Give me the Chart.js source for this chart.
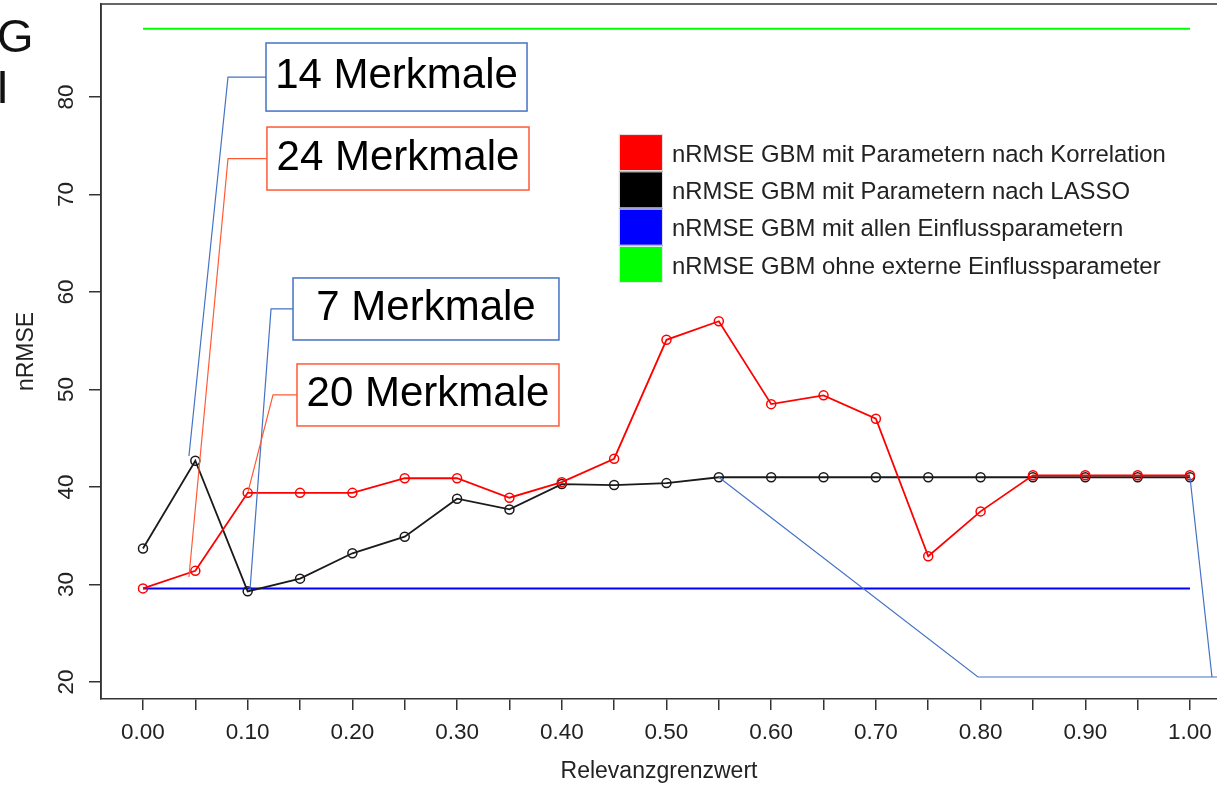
<!DOCTYPE html>
<html>
<head>
<meta charset="utf-8">
<script src="https://cdn.jsdelivr.net/npm/chart.js@4.4.1/dist/chart.umd.min.js"></script>
<style>
  html, body { margin: 0; padding: 0; background: #fff; overflow: hidden; }
</style>
</head>
<body>
<canvas id="chart" width="1217" height="785"></canvas>
<script>
// Relevanzgrenzwert (x) und nRMSE-Werte
const thresholds = [0.00, 0.05, 0.10, 0.15, 0.20, 0.25, 0.30, 0.35, 0.40, 0.45, 0.50,
  0.55, 0.60, 0.65, 0.70, 0.75, 0.80, 0.85, 0.90, 0.95, 1.00];
const nrmseCorrelation = [29.6, 31.4, 39.4, 39.4, 39.4, 40.9, 40.9, 38.9, 40.5, 42.9, 55.1,
  57.0, 48.5, 49.4, 47.0, 32.9, 37.5, 41.2, 41.2, 41.2, 41.2];
const nrmseLasso = [33.7, 42.7, 29.3, 30.6, 33.2, 34.9, 38.8, 37.7, 40.3, 40.2, 40.4,
  41.0, 41.0, 41.0, 41.0, 41.0, 41.0, 41.0, 41.0, 41.0, 41.0];
const constantRange = [0.00, 1.00];
const nrmseAllParams = [29.6, 29.6];
const nrmseNoExternal = [87.0, 87.0];

const seriesLabels = [
  'nRMSE GBM mit Parametern nach Korrelation',
  'nRMSE GBM mit Parametern nach LASSO',
  'nRMSE GBM mit allen Einflussparametern',
  'nRMSE GBM ohne externe Einflussparameter',
];
const seriesColors = ['#ff0000', '#000000', '#0000ff', '#00ff00'];

const yTicks = [20, 30, 40, 50, 60, 70, 80];
const xTicks = thresholds;
const xTickLabels = ['0.00', '', '0.10', '', '0.20', '', '0.30', '', '0.40', '', '0.50',
  '', '0.60', '', '0.70', '', '0.80', '', '0.90', '', '1.00'];

// Beschriftungskästen (in Datenkoordinaten)
const callouts = [
  { text: '14 Merkmale', color: '#4472c4', box: [0.1175, 0.3668, 85.54, 78.56], elbowX: 0.0812, target: [0.0439, 43.18] },
  { text: '24 Merkmale', color: '#ff5a36', box: [0.1184, 0.3687, 76.92, 70.46], elbowX: 0.0812, target: [0.0439, 30.77] },
  { text: '7 Merkmale', color: '#4472c4', box: [0.1433, 0.3973, 61.44, 55.08], elbowX: 0.1223, target: [0.1022, 29.44] },
  { text: '20 Merkmale', color: '#ff5a36', box: [0.1471, 0.3973, 52.62, 46.26], elbowX: 0.1242, target: [0.1003, 39.49] },
];
const rightLeaders = [
  [[0.55, 41.0], [0.7975, 20.51], [1.03, 20.51]],
  [[1.00, 41.0], [1.021, 20.51]],
];

const FONT = "'Liberation Sans', Arial, Helvetica, sans-serif";

const pairs = (xs, ys) => xs.map((x, i) => ({ x: x, y: ys[i] }));

const lineDataset = (label, data, color, withPoints) => ({
  label: label,
  data: data,
  borderColor: color,
  backgroundColor: 'transparent',
  borderWidth: withPoints ? 1.8 : 2,
  pointRadius: withPoints ? 4.5 : 0,
  pointBorderWidth: 1.5,
  pointBorderColor: color,
  pointBackgroundColor: 'transparent',
  tension: 0,
  fill: false,
});

const boxPlugin = {
  id: 'rbox',
  afterDraw(chart) {
    const { ctx, chartArea: a } = chart;
    ctx.save();
    ctx.strokeStyle = '#333';
    ctx.lineWidth = 1.5;
    ctx.beginPath();
    ctx.moveTo(a.left, a.bottom);
    ctx.lineTo(a.left, a.top);
    ctx.lineTo(a.right + 2, a.top);
    ctx.stroke();
    // abgeschnittener Text am linken Rand
    ctx.fillStyle = '#111';
    ctx.font = '47px ' + FONT;
    ctx.textBaseline = 'alphabetic';
    ctx.textAlign = 'left';
    ctx.fillText('G', -3, 52);
    ctx.fillText('I', -4, 103);
    ctx.restore();
  },
};

const legendPlugin = {
  id: 'rlegend',
  afterDraw(chart) {
    const { ctx, scales: { x, y } } = chart;
    const left = x.getPixelForValue(0.4546);
    const top = y.getPixelForValue(76.2);
    ctx.save();
    ctx.font = '23.9px ' + FONT;
    ctx.textBaseline = 'middle';
    ctx.textAlign = 'left';
    seriesLabels.forEach((label, i) => {
      const ry = top + i * 37.3;
      ctx.fillStyle = seriesColors[i];
      ctx.fillRect(left, ry, 44, 37);
      ctx.strokeStyle = '#e8e8e8';
      ctx.lineWidth = 1;
      ctx.strokeRect(left + 0.5, ry + 0.5, 43, 36);
      ctx.fillStyle = '#222';
      ctx.fillText(label, left + 53, ry + 21);
    });
    ctx.restore();
  },
};

const calloutPlugin = {
  id: 'callouts',
  afterDatasetsDraw(chart) {
    const { ctx, scales: { x, y } } = chart;
    ctx.save();
    callouts.forEach(c => {
      const bl = x.getPixelForValue(c.box[0]);
      const br = x.getPixelForValue(c.box[1]);
      const bt = y.getPixelForValue(c.box[2]);
      const bb = y.getPixelForValue(c.box[3]);
      const my = (bt + bb) / 2;
      ctx.strokeStyle = c.color;
      ctx.lineWidth = 1.2;
      ctx.beginPath();
      ctx.moveTo(x.getPixelForValue(c.target[0]), y.getPixelForValue(c.target[1]));
      ctx.lineTo(x.getPixelForValue(c.elbowX), my);
      ctx.lineTo(bl, my);
      ctx.stroke();
      ctx.fillStyle = '#fff';
      ctx.fillRect(bl, bt, br - bl, bb - bt);
      ctx.lineWidth = 1.5;
      ctx.strokeRect(bl, bt, br - bl, bb - bt);
      ctx.fillStyle = '#000';
      ctx.font = '42px ' + FONT;
      ctx.textAlign = 'center';
      ctx.textBaseline = 'alphabetic';
      ctx.fillText(c.text, (bl + br) / 2, my + 11);
    });
    ctx.strokeStyle = '#4472c4';
    ctx.lineWidth = 1.2;
    rightLeaders.forEach(pts => {
      ctx.beginPath();
      pts.forEach((p, i) => {
        const px = x.getPixelForValue(p[0]);
        const py = y.getPixelForValue(p[1]);
        if (i === 0) ctx.moveTo(px, py); else ctx.lineTo(px, py);
      });
      ctx.stroke();
    });
    ctx.restore();
  },
};

new Chart(document.getElementById('chart'), {
  type: 'line',
  data: {
    datasets: [
      lineDataset(seriesLabels[0], pairs(thresholds, nrmseCorrelation), seriesColors[0], true),
      lineDataset(seriesLabels[1], pairs(thresholds, nrmseLasso), '#1a1a1a', true),
      lineDataset(seriesLabels[2], pairs(constantRange, nrmseAllParams), seriesColors[2], false),
      lineDataset(seriesLabels[3], pairs(constantRange, nrmseNoExternal), seriesColors[3], false),
    ],
  },
  options: {
    responsive: false,
    animation: false,
    layout: { autoPadding: false, padding: { top: 4, left: 0, right: 0, bottom: 0 } },
    plugins: {
      legend: { display: false },
      tooltip: { enabled: false },
    },
    scales: {
      x: {
        type: 'linear',
        min: -0.0401,
        max: 1.0258,
        afterBuildTicks: (scale) => { scale.ticks = xTicks.map(v => ({ value: v })); },
        afterFit: (scale) => {
          scale.height = 86;
          scale.paddingLeft = 0;
          scale.paddingRight = 0;
        },
        ticks: {
          autoSkip: false,
          maxRotation: 0,
          minRotation: 0,
          padding: 9,
          color: '#222',
          font: { family: FONT, size: 22.5 },
          callback: (value, index) => xTickLabels[index],
        },
        grid: { drawOnChartArea: false, drawTicks: true, tickLength: 11, color: '#333', lineWidth: 1.5 },
        border: { display: true, color: '#333', width: 1.5 },
        title: {
          display: true,
          text: 'Relevanzgrenzwert',
          color: '#222',
          font: { family: FONT, size: 23 },
          padding: { top: 0, bottom: 0 },
        },
      },
      y: {
        type: 'linear',
        min: 18.256,
        max: 89.54,
        afterBuildTicks: (scale) => { scale.ticks = yTicks.map(v => ({ value: v })); },
        afterFit: (scale) => {
          scale.width = 101;
          scale.paddingTop = 0;
          scale.paddingBottom = 0;
        },
        ticks: {
          minRotation: 90,
          maxRotation: 90,
          crossAlign: 'center',
          padding: 10,
          color: '#222',
          font: { family: FONT, size: 22.5 },
        },
        grid: { drawOnChartArea: false, drawTicks: true, tickLength: 12, color: '#333', lineWidth: 1.5 },
        border: { display: true, color: '#333', width: 1.5 },
        title: {
          display: true,
          text: 'nRMSE',
          color: '#222',
          font: { family: FONT, size: 23 },
          padding: { top: 13, bottom: 0 },
        },
      },
    },
  },
  plugins: [boxPlugin, calloutPlugin, legendPlugin],
});
</script>
</body>
</html>
